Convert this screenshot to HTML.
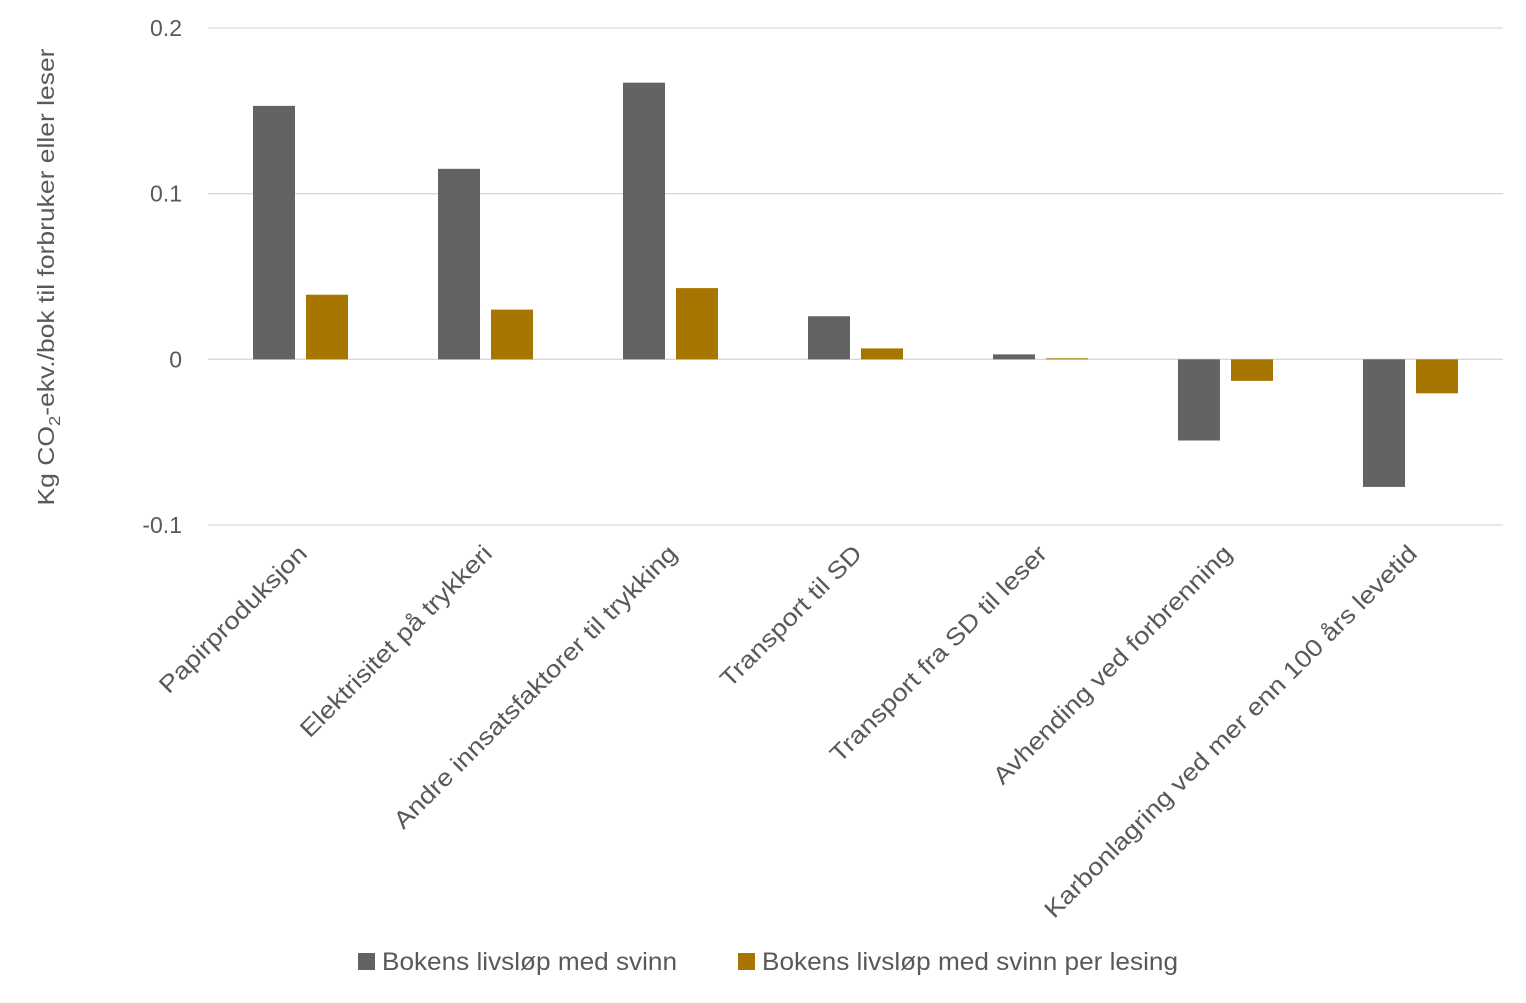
<!DOCTYPE html>
<html><head><meta charset="utf-8"><style>
body{margin:0;background:#fff;}
svg text{font-family:"Liberation Sans",sans-serif;fill:#595959;}
</style></head><body>
<svg id="chart" width="1526" height="998" xmlns="http://www.w3.org/2000/svg">
<text transform="translate(54,277) rotate(-90)" text-anchor="middle" font-size="23" textLength="457" lengthAdjust="spacingAndGlyphs">Kg CO<tspan font-size="16" dy="6">2</tspan><tspan dy="-6">-ekv./bok til forbruker eller leser</tspan></text>
<g>
<rect x="358" y="953" width="17" height="17" fill="#636363"/>
<text x="382" y="970" font-size="25" textLength="295" lengthAdjust="spacingAndGlyphs">Bokens livsløp med svinn</text>
<rect x="738" y="953" width="17" height="17" fill="#A67600"/>
<text x="762" y="970" font-size="25" textLength="416" lengthAdjust="spacingAndGlyphs">Bokens livsløp med svinn per lesing</text>
</g>
</svg>
<script>
const categories=["Papirproduksjon","Elektrisitet på trykkeri","Andre innsatsfaktorer til trykking","Transport til SD","Transport fra SD til leser","Avhending ved forbrenning","Karbonlagring ved mer enn 100 års levetid"];
const seriesSvinn=[0.153,0.115,0.167,0.026,0.003,-0.049,-0.077];
const seriesPerLesing=[0.039,0.030,0.043,0.0066,0.0006,-0.013,-0.0205];
const yTicks=[0.2,0.1,0,-0.1];
const yTickLabels=["0.2","0.1","0","-0.1"];
const NS="http://www.w3.org/2000/svg";
const svg=document.getElementById('chart');
const x0=208,x1=1503,yTop=28,yBot=525,vMax=0.2,vMin=-0.1;
const y=v=>yTop+(vMax-v)/(vMax-vMin)*(yBot-yTop);
const band=(x1-x0)/categories.length;
const cx=i=>x0+band*(i+0.5);
function mk(t,a){const e=document.createElementNS(NS,t);for(const k in a)e.setAttribute(k,a[k]);svg.appendChild(e);return e;}
yTicks.forEach((v,i)=>{
  const g=mk('line',{x1:x0,x2:x1,y1:y(v),y2:y(v),stroke:'#d9d9d9','stroke-width':1.3});
  
  
  const t=mk('text',{x:182,y:y(v)+8,'text-anchor':'end','font-size':23});
  t.textContent=yTickLabels[i];
  
  
});
const bw=42,gap=11;
categories.forEach((c,i)=>{
  [[seriesSvinn,'#636363',-gap/2-bw,'bar-svinn'],[seriesPerLesing,'#A67600',gap/2,'bar-per-lesing']].forEach(([s,col,off,nm])=>{
    const v=s[i];const ya=y(Math.max(v,0)),yb=y(Math.min(v,0));
    const r=mk('rect',{x:cx(i)+off,y:ya,width:bw,height:Math.max(yb-ya,0.8),fill:col});
    
    
  });
  const t=mk('text',{transform:`translate(${cx(i)+8},${y(vMin)+30}) rotate(-45) scale(1.14,1)`,'text-anchor':'end','font-size':24});
  t.textContent=c;
  
  
});
</script>
</body></html>
